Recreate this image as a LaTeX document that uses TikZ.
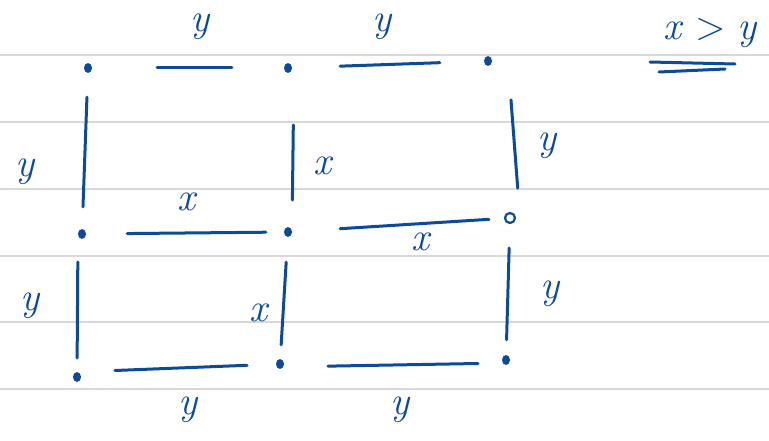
\documentclass[tikz,border=0pt]{standalone}
\usepackage{fontspec}
\usepackage{tikz}
\usetikzlibrary{shapes.geometric}
\definecolor{ink}{RGB}{14,74,150}
\definecolor{ruling}{RGB}{216,216,216}
\tikzset{
  dot/.style={ellipse, fill=ink, inner sep=0pt, minimum width=8pt, minimum height=10pt},
  ring/.style={circle, draw=ink, line width=2.2pt, inner sep=0pt, minimum size=10pt},
  edge/.style={draw=ink, line width=3pt, line cap=round},
  lbl/.style={text=ink, font=\fontsize{40}{42}\selectfont\itshape, inner sep=0pt}
}
\begin{document}
\begin{tikzpicture}[x=1pt,y=-1pt]
\useasboundingbox (0,0) rectangle (769,441);
\foreach \ry in {55,122,189,256,322,389}
    \draw[ruling, line width=1.5pt] (0,\ry) -- (769,\ry);

\node[dot] (a1) at (88,68) {};
\node[dot] (a2) at (288,68) {};
\node[dot] (a3) at (488,61) {};
\node[dot] (b1) at (82,234) {};
\node[dot] (b2) at (288,232) {};
\node[ring] (b3) at (510,218) {};
\node[dot] (c1) at (77,377) {};
\node[dot] (c2) at (280,364) {};
\node[dot] (c3) at (506,360) {};

\draw[edge, shorten <=65pt, shorten >=52pt] (a1) -- (a2);
\draw[edge, shorten <=48pt, shorten >=44pt] (a2) -- (a3);
\draw[edge, shorten <=24pt, shorten >=22pt] (a1) -- (b1);
\draw[edge, shorten <=57pt, shorten >=32pt] ([xshift=6pt]a2.center) -- ([xshift=4pt]b2.center);
\draw[edge, shorten <=39pt, shorten >=30pt] ([xshift=20pt]a3.center) -- ([xshift=10pt]b3.center);
\draw[edge, shorten <=41pt, shorten >=18pt] (b1) -- (b2);
\draw[edge, shorten <=48pt, shorten >=15pt] (b2) -- (b3);
\draw[edge, shorten <=28pt, shorten >=19pt] ([xshift=-4pt]b1.center) -- (c1.center);
\draw[edge, shorten <=25pt, shorten >=14pt] (b2) -- (c2);
\draw[edge, shorten <=24pt, shorten >=15pt] (b3) -- (c3);
\draw[edge, shorten <=38pt, shorten >=33pt] ([yshift=5pt]c1.center) -- (c2.center);
\draw[edge, shorten <=48pt, shorten >=28pt] ([yshift=-3pt]c2.center) -- ([yshift=-3pt]c3.center);

\node[lbl] (ya1) at (200,27) {y};
\node[lbl] (ya2) at (382,27) {y};
\node[lbl] (yb1) at (25,172) {y};
\node[lbl] (xb2) at (322,166) {x};
\node[lbl] (yb3) at (547,146) {y};
\node[lbl] (xm1) at (186,202) {x};
\node[lbl] (xm2) at (420,242) {x};
\node[lbl] (yc1) at (30,306) {y};
\node[lbl] (xc2) at (258,313) {x};
\node[lbl] (yc3) at (550,294) {y};
\node[lbl] (yd1) at (188,410) {y};
\node[lbl] (yd2) at (400,410) {y};

\node[lbl] (rel) at (710,33) {x\hspace{14pt}\upshape>\hspace{12pt}\itshape y};
\draw[edge] (650,62) -- (735,64);
\draw[edge] (659,72) -- (725,69);
\end{tikzpicture}
\end{document}
